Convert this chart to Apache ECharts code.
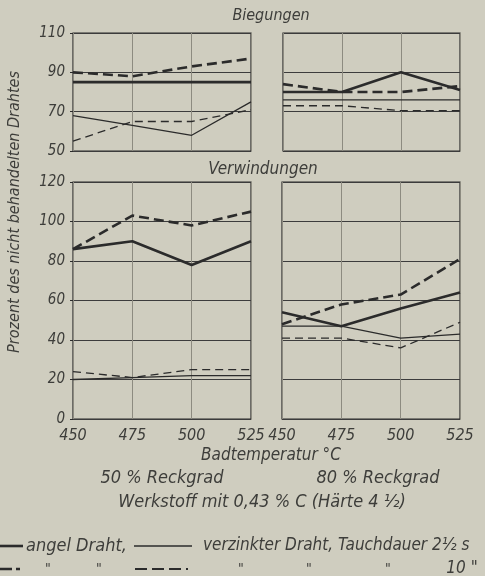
<!DOCTYPE html>
<html>
<head>
<meta charset="utf-8">
<script src="https://cdn.jsdelivr.net/npm/echarts@6/dist/echarts.min.js"></script>
<style>
  html, body { margin: 0; padding: 0; background: #cfcdbf; }
  #chart { width: 485px; height: 576px; }
</style>
</head>
<body>
<div id="chart"></div>
<script>
// Badtemperatur in °C
var temps = [450, 475, 500, 525];
var tempTicks = ['450', '475', '500', '525'];

// Biegungen, 50 % Reckgrad
var bieg50ThickSolid  = [85, 85, 85, 85];
var bieg50ThickDashed = [90, 88, 93, 97];
var bieg50ThinSolid   = [68, 63, 58, 75];
var bieg50ThinDashed  = [55, 65, 65, 71];

// Biegungen, 80 % Reckgrad
var bieg80ThickSolid  = [80, 80, 90, 81];
var bieg80ThickDashed = [84, 80, 80, 83];
var bieg80ThinSolid   = [76, 76, 76, 76];
var bieg80ThinDashed  = [73, 73, 70.5, 70.5];

// Verwindungen, 50 % Reckgrad
var verw50ThickSolid  = [86, 90, 78, 90];
var verw50ThickDashed = [86, 103, 98, 105];
var verw50ThinSolid   = [20, 21, 22, 22];
var verw50ThinDashed  = [24, 21, 25, 25];

// Verwindungen, 80 % Reckgrad
var verw80ThickSolid  = [54, 47, 56, 64];
var verw80ThickDashed = [48, 58, 63, 81];
var verw80ThinSolid   = [47, 47, 41, 43];
var verw80ThinDashed  = [41, 41, 36, 49];

var ink = '#2b2b2b';
var textInk = '#3d3d3a';
var fontFam = '"DejaVu Sans Condensed", "Liberation Sans", sans-serif';

var chart = echarts.init(document.getElementById('chart'));

function pairs(vals) {
  return temps.map(function (t, i) { return [t, vals[i]]; });
}

// four kinds of line, same in every panel
var styles = {
  thickSolid:  { width: 2.6, type: 'solid' },
  thickDashed: { width: 2.6, type: [10, 5] },
  thinSolid:   { width: 1.3, type: 'solid' },
  thinDashed:  { width: 1.3, type: [8, 5] }
};

function mkSeries(idx, vals, kind) {
  return {
    type: 'line',
    xAxisIndex: idx,
    yAxisIndex: idx,
    data: pairs(vals),
    symbol: 'none',
    silent: true,
    lineStyle: { color: ink, width: styles[kind].width, type: styles[kind].type }
  };
}

function mkX(idx, showLabels) {
  return {
    type: 'value', gridIndex: idx, min: 450, max: 525, interval: 25,
    axisLine: { show: false },
    axisTick: { show: false },
    axisLabel: {
      show: showLabels, color: textInk, fontSize: 16, fontStyle: 'italic',
      fontFamily: fontFam, margin: 9,
      formatter: function (v) { return tempTicks[temps.indexOf(v)]; }
    },
    splitLine: { show: true, lineStyle: { color: '#8d8b80', width: 1 } }
  };
}

function mkY(idx, min, max, showLabels) {
  return {
    type: 'value', gridIndex: idx, min: min, max: max, interval: 20,
    axisLine: { show: false },
    axisTick: { show: showLabels, length: 3, lineStyle: { color: ink } },
    axisLabel: {
      show: showLabels, color: textInk, fontSize: 15, fontStyle: 'italic',
      fontFamily: fontFam, margin: 8
    },
    splitLine: { show: true, lineStyle: { color: '#3c3c3c', width: 1 } }
  };
}

var gridBase = { show: true, borderColor: ink, borderWidth: 1.2, backgroundColor: 'transparent' };

function txt(x, y, s, size, extra) {
  var st = {
    text: s, fill: textInk, font: 'italic ' + size + 'px ' + fontFam,
    textAlign: 'center', textVerticalAlign: 'middle', align: 'center', verticalAlign: 'middle'
  };
  if (extra) for (var k in extra) st[k] = extra[k];
  return { type: 'text', x: x, y: y, style: st, silent: true };
}

function seg(x1, x2, y, w, dash) {
  return {
    type: 'line', silent: true,
    shape: { x1: x1, y1: y, x2: x2, y2: y },
    style: { stroke: ink, lineWidth: w, lineDash: dash || null }
  };
}

var option = {
  backgroundColor: '#cfcdbf',
  animation: false,
  grid: [
    Object.assign({ left: 73, top: 33, width: 178, height: 118 }, gridBase),
    Object.assign({ left: 283, top: 33, width: 177, height: 118 }, gridBase),
    Object.assign({ left: 73, top: 182, width: 178, height: 237 }, gridBase),
    Object.assign({ left: 282, top: 182, width: 178, height: 237 }, gridBase)
  ],
  xAxis: [mkX(0, false), mkX(1, false), mkX(2, true), mkX(3, true)],
  yAxis: [mkY(0, 50, 110, true), mkY(1, 50, 110, false), mkY(2, 0, 120, true), mkY(3, 0, 120, false)],
  series: [
    mkSeries(0, bieg50ThickSolid, 'thickSolid'),
    mkSeries(0, bieg50ThickDashed, 'thickDashed'),
    mkSeries(0, bieg50ThinSolid, 'thinSolid'),
    mkSeries(0, bieg50ThinDashed, 'thinDashed'),
    mkSeries(1, bieg80ThickSolid, 'thickSolid'),
    mkSeries(1, bieg80ThickDashed, 'thickDashed'),
    mkSeries(1, bieg80ThinSolid, 'thinSolid'),
    mkSeries(1, bieg80ThinDashed, 'thinDashed'),
    mkSeries(2, verw50ThickSolid, 'thickSolid'),
    mkSeries(2, verw50ThickDashed, 'thickDashed'),
    mkSeries(2, verw50ThinSolid, 'thinSolid'),
    mkSeries(2, verw50ThinDashed, 'thinDashed'),
    mkSeries(3, verw80ThickSolid, 'thickSolid'),
    mkSeries(3, verw80ThickDashed, 'thickDashed'),
    mkSeries(3, verw80ThinSolid, 'thinSolid'),
    mkSeries(3, verw80ThinDashed, 'thinDashed')
  ],
  graphic: [
    txt(271, 16, 'Biegungen', 16),
    txt(263, 170, 'Verwindungen', 17),
    txt(271, 456, 'Badtemperatur °C', 17),
    txt(162, 478, '50 % Reckgrad', 18),
    txt(378, 478, '80 % Reckgrad', 18),
    txt(262, 502, 'Werkstoff mit 0,43 % C (Härte 4 ½)', 18),
    {
      type: 'text', x: 15, y: 212, rotation: Math.PI / 2, silent: true,
      style: {
        text: 'Prozent des nicht behandelten Drahtes', fill: textInk,
        font: 'italic 16px ' + fontFam,
        textAlign: 'center', textVerticalAlign: 'middle', align: 'center', verticalAlign: 'middle'
      }
    },
    // legend, row 1
    seg(0, 23, 546, 2.6),
    txt(26, 546, 'angel Draht,', 18, { textAlign: 'left', align: 'left' }),
    seg(134, 192, 546, 1.3),
    txt(203, 546, 'verzinkter Draht, Tauchdauer 2½ s', 17, { textAlign: 'left', align: 'left' }),
    // legend, row 2
    seg(0, 20, 569, 2.6, [12, 4]),
    txt(48, 569, '"', 14),
    txt(99, 569, '"', 14),
    seg(135, 188, 569, 1.8, [12, 5]),
    txt(241, 569, '"', 14),
    txt(309, 569, '"', 14),
    txt(388, 569, '"', 14),
    txt(462, 569, '10 "', 17)
  ]
};

chart.setOption(option);
</script>
</body>
</html>
